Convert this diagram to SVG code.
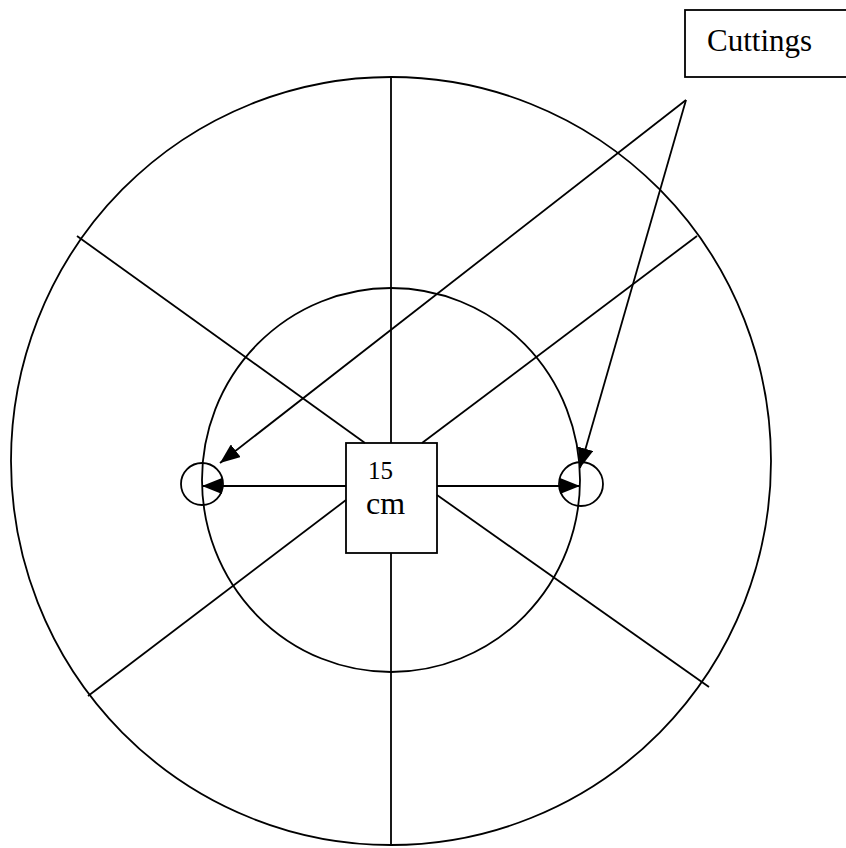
<svg xmlns="http://www.w3.org/2000/svg" width="846" height="848" viewBox="0 0 846 848">
<style>
.s{fill:none;stroke:#000;stroke-width:1.8}
.t{font-family:"Liberation Serif",serif;fill:#000}
</style>
<defs>
<marker id="ah" markerWidth="20" markerHeight="16" refX="20" refY="8" orient="auto" markerUnits="userSpaceOnUse">
<path d="M0,0 L20,8 L0,16 Z" fill="#000"/>
</marker>
</defs>
<rect width="846" height="848" fill="#fff"/>
<g id="outer-circle"><ellipse class="s" cx="391" cy="461" rx="380" ry="384"/></g>
<g id="inner-circle"><ellipse class="s" cx="391" cy="480" rx="189" ry="192"/></g>
<g id="spokes">
<line class="s" x1="391" y1="77" x2="391" y2="443"/>
<line class="s" x1="391" y1="553" x2="391" y2="845"/>
<line class="s" x1="77" y1="236" x2="365" y2="443"/>
<line class="s" x1="697" y1="236" x2="422" y2="443"/>
<line class="s" x1="346" y1="500" x2="88" y2="696"/>
<line class="s" x1="437" y1="495" x2="709" y2="687"/>
</g>
<g id="left-cutting"><circle class="s" cx="202" cy="484" r="21"/></g>
<g id="right-cutting"><circle class="s" cx="581" cy="484" r="22"/></g>
<g id="center-box">
<rect class="s" x="346" y="443" width="91" height="110" fill="#fff"/>
<text class="t" x="368" y="479" font-size="25">15</text>
<text class="t" x="366" y="514" font-size="32">cm</text>
</g>
<g id="cuttings-label">
<rect class="s" x="685" y="10" width="165" height="67"/>
<text class="t" x="707" y="51" font-size="31">Cuttings</text>
</g>
<g id="connectors">
<line class="s" x1="346" y1="486" x2="202" y2="486" marker-end="url(#ah)"/>
<line class="s" x1="437" y1="486" x2="580" y2="486" marker-end="url(#ah)"/>
<line class="s" x1="686" y1="100" x2="220" y2="463" marker-end="url(#ah)"/>
<line class="s" x1="686" y1="100" x2="580" y2="468" marker-end="url(#ah)"/>
</g>
</svg>
